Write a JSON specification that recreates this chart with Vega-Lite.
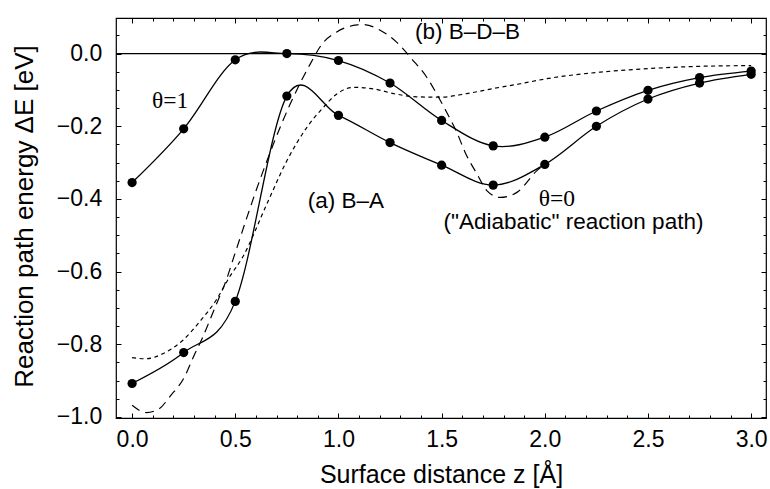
{
  "$schema": "https://vega.github.io/schema/vega-lite/v6.json",
  "width": 650,
  "height": 400,
  "autosize": {"type": "none"},
  "padding": {"left": 116, "top": 18, "right": 4, "bottom": 71},
  "background": "white",
  "config": {
    "view": {"stroke": "black", "strokeWidth": 1.2},
    "font": "Liberation Sans",
    "axis": {
      "grid": false,
      "domain": false,
      "tickColor": "black",
      "tickWidth": 1,
      "labelColor": "black",
      "titleColor": "black",
      "labelFont": "Liberation Sans",
      "titleFont": "Liberation Sans",
      "titleFontWeight": "normal",
      "labelFlush": false,
      "labelOverlap": false
    }
  },
  "datasets": {
    "pts": [
      {"z": 0.0, "E": -0.355, "theta": "1"},
      {"z": 0.25, "E": -0.207, "theta": "1"},
      {"z": 0.5, "E": -0.017, "theta": "1"},
      {"z": 0.75, "E": 0.0, "theta": "1"},
      {"z": 1.0, "E": -0.019, "theta": "1"},
      {"z": 1.25, "E": -0.081, "theta": "1"},
      {"z": 1.5, "E": -0.184, "theta": "1"},
      {"z": 1.75, "E": -0.254, "theta": "1"},
      {"z": 2.0, "E": -0.23, "theta": "1"},
      {"z": 2.25, "E": -0.158, "theta": "1"},
      {"z": 2.5, "E": -0.101, "theta": "1"},
      {"z": 2.75, "E": -0.066, "theta": "1"},
      {"z": 3.0, "E": -0.048, "theta": "1"},
      {"z": 0.0, "E": -0.908, "theta": "0"},
      {"z": 0.25, "E": -0.823, "theta": "0"},
      {"z": 0.5, "E": -0.682, "theta": "0"},
      {"z": 0.75, "E": -0.117, "theta": "0"},
      {"z": 1.0, "E": -0.17, "theta": "0"},
      {"z": 1.25, "E": -0.245, "theta": "0"},
      {"z": 1.5, "E": -0.307, "theta": "0"},
      {"z": 1.75, "E": -0.362, "theta": "0"},
      {"z": 2.0, "E": -0.305, "theta": "0"},
      {"z": 2.25, "E": -0.2, "theta": "0"},
      {"z": 2.5, "E": -0.125, "theta": "0"},
      {"z": 2.75, "E": -0.081, "theta": "0"},
      {"z": 3.0, "E": -0.057, "theta": "0"}
    ],
    "bdb": [
      {"z": 0.0, "E": -0.968},
      {"z": 0.068, "E": -0.988},
      {"z": 0.125, "E": -0.98},
      {"z": 0.189, "E": -0.94},
      {"z": 0.254, "E": -0.89},
      {"z": 0.297, "E": -0.835},
      {"z": 0.339, "E": -0.785},
      {"z": 0.383, "E": -0.725},
      {"z": 0.423, "E": -0.67},
      {"z": 0.456, "E": -0.624},
      {"z": 0.49, "E": -0.565},
      {"z": 0.63, "E": -0.331},
      {"z": 0.766, "E": -0.139},
      {"z": 0.863, "E": -0.029},
      {"z": 0.92, "E": 0.026},
      {"z": 0.99, "E": 0.059},
      {"z": 1.09, "E": 0.079},
      {"z": 1.12, "E": 0.08},
      {"z": 1.2, "E": 0.065},
      {"z": 1.283, "E": 0.031},
      {"z": 1.356, "E": -0.015},
      {"z": 1.428, "E": -0.065},
      {"z": 1.485, "E": -0.12},
      {"z": 1.525, "E": -0.162},
      {"z": 1.574, "E": -0.217},
      {"z": 1.614, "E": -0.272},
      {"z": 1.671, "E": -0.331},
      {"z": 1.719, "E": -0.377},
      {"z": 1.784, "E": -0.396},
      {"z": 1.865, "E": -0.382},
      {"z": 1.962, "E": -0.322},
      {"z": 2.0, "E": -0.305}
    ],
    "ba": [
      {"z": 0.0, "E": -0.837},
      {"z": 0.068, "E": -0.84},
      {"z": 0.149, "E": -0.826},
      {"z": 0.246, "E": -0.789},
      {"z": 0.326, "E": -0.739},
      {"z": 0.407, "E": -0.679},
      {"z": 0.472, "E": -0.615},
      {"z": 0.536, "E": -0.56},
      {"z": 0.653, "E": -0.414},
      {"z": 0.75, "E": -0.295},
      {"z": 0.847, "E": -0.203},
      {"z": 0.927, "E": -0.148},
      {"z": 0.992, "E": -0.111},
      {"z": 1.073, "E": -0.093},
      {"z": 1.17, "E": -0.097},
      {"z": 1.267, "E": -0.11},
      {"z": 1.38, "E": -0.119},
      {"z": 1.493, "E": -0.12},
      {"z": 1.622, "E": -0.11},
      {"z": 1.751, "E": -0.096},
      {"z": 1.881, "E": -0.083},
      {"z": 2.01, "E": -0.069},
      {"z": 2.269, "E": -0.051},
      {"z": 2.51, "E": -0.041},
      {"z": 2.753, "E": -0.035},
      {"z": 3.0, "E": -0.033}
    ],
    "sans": [
      {"z": 1.036, "E": -0.424, "label": "(a) B–A"},
      {"z": 1.625, "E": 0.039, "label": "(b) B–D–B"},
      {"z": 2.139, "E": -0.484, "label": "(\"Adiabatic\" reaction path)"}
    ],
    "serif": [
      {"z": 0.184, "E": -0.151, "label": "θ=1"},
      {"z": 2.059, "E": -0.42, "label": "θ=0"}
    ]
  },
  "resolve": {"axis": {"x": "independent", "y": "independent"}},
  "layer": [
    {
      "data": {"values": [{"E": 0}]},
      "mark": {"type": "rule", "color": "black", "strokeWidth": 1.3},
      "encoding": {
        "y": {"field": "E", "type": "quantitative", "scale": {"domain": [-1.003, 0.098], "nice": false, "zero": false}, "axis": null}
      }
    },
    {
      "data": {"name": "bdb"},
      "mark": {"type": "line", "color": "black", "strokeWidth": 1.2, "strokeDash": [9, 6], "interpolate": "monotone"},
      "encoding": {
        "x": {"field": "z", "type": "quantitative", "scale": {"domain": [-0.078, 3.072], "nice": false, "zero": false}, "axis": null},
        "y": {"field": "E", "type": "quantitative", "scale": {"domain": [-1.003, 0.098], "nice": false, "zero": false}, "axis": null}
      }
    },
    {
      "data": {"name": "ba"},
      "mark": {"type": "line", "color": "black", "strokeWidth": 1.2, "strokeDash": [4, 3.5], "interpolate": "monotone"},
      "encoding": {
        "x": {"field": "z", "type": "quantitative", "scale": {"domain": [-0.078, 3.072], "nice": false, "zero": false}, "axis": null},
        "y": {"field": "E", "type": "quantitative", "scale": {"domain": [-1.003, 0.098], "nice": false, "zero": false}, "axis": null}
      }
    },
    {
      "data": {"name": "pts"},
      "mark": {"type": "line", "color": "black", "strokeWidth": 1.3, "interpolate": "cardinal"},
      "encoding": {
        "x": {
          "field": "z", "type": "quantitative",
          "scale": {"domain": [-0.078, 3.072], "nice": false, "zero": false},
          "axis": {
            "orient": "bottom",
            "values": [0, 0.5, 1, 1.5, 2, 2.5, 3],
            "format": ".1f",
            "tickSize": -5,
            "labelFontSize": 23,
            "labelBaseline": "alphabetic",
            "labelPadding": 33.7,
            "title": "Surface distance z [Å]",
            "titleFontSize": 25,
            "titleBaseline": "alphabetic",
            "titleAlign": "center",
            "titleX": 325,
            "titleY": 64
          }
        },
        "y": {
          "field": "E", "type": "quantitative",
          "scale": {"domain": [-1.003, 0.098], "nice": false, "zero": false},
          "axis": {
            "orient": "left",
            "values": [-1, -0.8, -0.6, -0.4, -0.2, 0],
            "format": ".1f",
            "tickSize": -5,
            "labelFontSize": 23,
            "labelBaseline": "middle",
            "labelPadding": 19.3,
            "title": "Reaction path energy ΔE [eV]",
            "titleFontSize": 26,
            "titleAngle": -90,
            "titleBaseline": "alphabetic",
            "titleAlign": "center",
            "titleX": -84,
            "titleY": 198
          }
        },
        "detail": {"field": "theta", "type": "nominal"}
      }
    },
    {
      "data": {"name": "pts"},
      "mark": {"type": "circle", "color": "black", "opacity": 1, "size": 85},
      "encoding": {
        "x": {"field": "z", "type": "quantitative", "scale": {"domain": [-0.078, 3.072], "nice": false, "zero": false}, "axis": null},
        "y": {"field": "E", "type": "quantitative", "scale": {"domain": [-1.003, 0.098], "nice": false, "zero": false}, "axis": null}
      }
    },
    {
      "data": {"name": "sans"},
      "mark": {"type": "text", "font": "Liberation Sans", "fontSize": 22.5, "color": "black", "align": "center", "baseline": "alphabetic"},
      "encoding": {
        "x": {"field": "z", "type": "quantitative", "scale": {"domain": [-0.078, 3.072], "nice": false, "zero": false}, "axis": null},
        "y": {"field": "E", "type": "quantitative", "scale": {"domain": [-1.003, 0.098], "nice": false, "zero": false}, "axis": null},
        "text": {"field": "label"}
      }
    },
    {
      "data": {"name": "serif"},
      "mark": {"type": "text", "font": "Liberation Serif", "fontSize": 23.5, "color": "black", "align": "center", "baseline": "alphabetic"},
      "encoding": {
        "x": {"field": "z", "type": "quantitative", "scale": {"domain": [-0.078, 3.072], "nice": false, "zero": false}, "axis": null},
        "y": {"field": "E", "type": "quantitative", "scale": {"domain": [-1.003, 0.098], "nice": false, "zero": false}, "axis": null},
        "text": {"field": "label"}
      }
    },
    {
      "data": {"name": "pts"},
      "mark": {"type": "point", "opacity": 0},
      "encoding": {
        "x": {
          "field": "z", "type": "quantitative",
          "scale": {"domain": [-0.078, 3.072], "nice": false, "zero": false},
          "axis": {"orient": "bottom", "values": [0.1, 0.2, 0.3, 0.4, 0.6, 0.7, 0.8, 0.9, 1.1, 1.2, 1.3, 1.4, 1.6, 1.7, 1.8, 1.9, 2.1, 2.2, 2.3, 2.4, 2.6, 2.7, 2.8, 2.9], "tickSize": -3, "labels": false, "title": null}
        },
        "y": {
          "field": "E", "type": "quantitative",
          "scale": {"domain": [-1.003, 0.098], "nice": false, "zero": false},
          "axis": {"orient": "left", "values": [-0.95, -0.9, -0.85, -0.75, -0.7, -0.65, -0.55, -0.5, -0.45, -0.35, -0.3, -0.25, -0.15, -0.1, -0.05, 0.05], "tickSize": -3, "labels": false, "title": null}
        }
      }
    },
    {
      "data": {"name": "pts"},
      "mark": {"type": "point", "opacity": 0},
      "encoding": {
        "x": {
          "field": "z", "type": "quantitative",
          "scale": {"domain": [-0.078, 3.072], "nice": false, "zero": false},
          "axis": {"orient": "top", "values": [0, 0.5, 1, 1.5, 2, 2.5, 3], "tickSize": -5, "labels": false, "title": null}
        },
        "y": {
          "field": "E", "type": "quantitative",
          "scale": {"domain": [-1.003, 0.098], "nice": false, "zero": false},
          "axis": {"orient": "right", "values": [-1, -0.8, -0.6, -0.4, -0.2, 0], "tickSize": -5, "labels": false, "title": null}
        }
      }
    },
    {
      "data": {"name": "pts"},
      "mark": {"type": "point", "opacity": 0},
      "encoding": {
        "x": {
          "field": "z", "type": "quantitative",
          "scale": {"domain": [-0.078, 3.072], "nice": false, "zero": false},
          "axis": {"orient": "top", "values": [0.1, 0.2, 0.3, 0.4, 0.6, 0.7, 0.8, 0.9, 1.1, 1.2, 1.3, 1.4, 1.6, 1.7, 1.8, 1.9, 2.1, 2.2, 2.3, 2.4, 2.6, 2.7, 2.8, 2.9], "tickSize": -3, "labels": false, "title": null}
        },
        "y": {
          "field": "E", "type": "quantitative",
          "scale": {"domain": [-1.003, 0.098], "nice": false, "zero": false},
          "axis": {"orient": "right", "values": [-0.95, -0.9, -0.85, -0.75, -0.7, -0.65, -0.55, -0.5, -0.45, -0.35, -0.3, -0.25, -0.15, -0.1, -0.05, 0.05], "tickSize": -3, "labels": false, "title": null}
        }
      }
    }
  ]
}
